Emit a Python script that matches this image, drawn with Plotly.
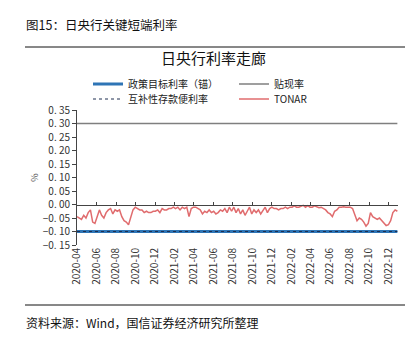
import pandas as pd
import plotly.graph_objects as go

# TONAR weekly readings (Wednesdays from 2020-04-01), %
tonar = [
    # 2020 Apr-Dec
    -0.045, -0.05, -0.055, -0.04, -0.05,
    -0.03, -0.02, -0.065, -0.07,
    -0.045, -0.02, -0.04, -0.05,
    -0.03, -0.02, -0.015, -0.035, -0.02,
    -0.025, -0.02, -0.045, -0.06,
    -0.065, -0.075, -0.05, -0.02, -0.01,
    -0.015, -0.02, -0.02, -0.03,
    -0.025, -0.03, -0.03, -0.025,
    -0.025, -0.02, -0.03, -0.015, -0.02,
    # 2021
    -0.02, -0.015, -0.015, -0.01,
    -0.015, -0.01, -0.02, -0.01,
    -0.015, -0.01, -0.045, -0.015, -0.01,
    -0.01, -0.015, -0.02, -0.035,
    -0.025, -0.03, -0.02, -0.03,
    -0.025, -0.035, -0.03, -0.02, -0.025,
    -0.015, -0.03, -0.01, -0.025,
    -0.01, -0.03, -0.015, -0.035,
    -0.02, -0.04, -0.025, -0.01, -0.035,
    -0.02, -0.03, -0.02, -0.035,
    -0.02, -0.01, -0.03, -0.015,
    -0.01, -0.015, -0.015, -0.02, -0.015,
    # 2022
    -0.015, -0.01, -0.015, -0.01,
    -0.01, -0.005, -0.01, -0.01,
    -0.005, -0.003, -0.01, -0.004, -0.01,
    -0.01, -0.005, -0.01, -0.012,
    -0.01, -0.015, -0.02, -0.03,
    -0.035, -0.045, -0.025, -0.02, -0.01,
    -0.01, -0.008, -0.01, -0.01,
    -0.01, -0.015, -0.04, -0.06, -0.05,
    -0.055, -0.065, -0.08, -0.07,
    -0.03, -0.045, -0.05, -0.055,
    -0.05, -0.06, -0.07, -0.078, -0.075,
    -0.06, -0.03, -0.02, -0.025,
]
dates = pd.date_range("2020-04-01", periods=len(tonar), freq="7D")
policy_rate = [-0.10] * len(tonar)
discount_rate = [0.30] * len(tonar)
deposit_rate = [-0.10] * len(tonar)

yticks = [0.35, 0.30, 0.25, 0.20, 0.15, 0.10, 0.05, 0.00, -0.05, -0.10, -0.15]
yticktext = [("−" if v < 0 else "") + "0. %02d" % round(abs(v) * 100) for v in yticks]

FONT = "Noto Sans CJK SC"
L, T, PW, PH = 77, 110, 321, 135


def px(xp):
    return (xp - L) / PW


def py(yp):
    return 1 - (yp - T) / PH


fig = go.Figure()
fig.add_trace(go.Scatter(x=dates, y=policy_rate, mode="lines", name="政策目标利率（锚）",
                         line=dict(color="#2E75B6", width=3), legend="legend"))
fig.add_trace(go.Scatter(x=dates, y=discount_rate, mode="lines", name="贴现率",
                         line=dict(color="#7F7F7F", width=1.5), legend="legend2"))
fig.add_trace(go.Scatter(x=dates, y=deposit_rate, mode="lines", name="互补性存款便利率",
                         line=dict(color="#1F2F50", width=1, dash="dot"), legend="legend3"))
fig.add_trace(go.Scatter(x=dates, y=tonar, mode="lines", name="TONAR",
                         line=dict(color="#E06C6E", width=1.5), legend="legend4"))


def leg(xp, yp):
    return dict(x=px(xp), xanchor="left", y=py(yp), yanchor="middle",
                font=dict(size=10, family=FONT, color="#222"), bgcolor="rgba(0,0,0,0)",
                itemwidth=30, borderwidth=0)


fig.update_layout(
    width=417, height=346,
    margin=dict(l=L, r=417 - L - PW, t=T, b=346 - T - PH),
    paper_bgcolor="white", plot_bgcolor="white",
    font=dict(family=FONT, size=10, color="#222"),
    showlegend=True,
    legend=leg(88, 84), legend2=leg(234, 84), legend3=leg(88, 99), legend4=leg(234, 99),
    xaxis=dict(range=["2020-04-01", "2022-12-30"], showline=False, showgrid=False, zeroline=False,
               ticks="", tickangle=-90, dtick="M2", tick0="2020-04-01", tickformat="%Y-%m",
               tickfont=dict(size=10, color="#333")),
    xaxis2=dict(matches="x", overlaying="x", anchor="free", position=0.3, side="bottom",
                showline=True, linecolor="#444", linewidth=1, ticks="inside", ticklen=3,
                tickcolor="#444", dtick="M2", tick0="2020-04-01", showticklabels=False,
                showgrid=False, zeroline=False),
    yaxis=dict(range=[-0.15, 0.35], tickvals=yticks, ticktext=yticktext, showgrid=False,
               zeroline=False, showline=True, linecolor="#444", linewidth=1, ticks="outside",
               ticklen=4, tickcolor="#444", tickfont=dict(size=10, color="#333"),
               title=dict(text="%", font=dict(size=9, color="#555"), standoff=2)),
)
# invisible trace so xaxis2 (zero line with ticks) is drawn
fig.add_trace(go.Scatter(x=[dates[0]], y=[0], xaxis="x2", mode="markers", marker=dict(opacity=0),
                         showlegend=False, hoverinfo="skip"))

fig.add_annotation(text="图15：日央行关键短端利率", xref="paper", yref="paper", x=px(24), y=py(25),
                   xanchor="left", yanchor="middle", showarrow=False, font=dict(size=12.5, color="#111", family=FONT))
fig.add_annotation(text="日央行利率走廊", xref="paper", yref="paper", x=px(213), y=py(57),
                   xanchor="center", yanchor="middle", showarrow=False, font=dict(size=15, color="#111", family=FONT))
fig.add_annotation(text="资料来源：Wind，国信证券经济研究所整理", xref="paper", yref="paper", x=px(24),
                   y=py(322), xanchor="left", yanchor="middle", showarrow=False,
                   font=dict(size=12, color="#111", family=FONT))
fig.add_shape(type="line", xref="paper", yref="paper", x0=px(25), x1=px(405),
              y0=py(47), y1=py(47), line=dict(color="#111", width=1))
fig.add_shape(type="line", xref="paper", yref="paper", x0=px(25), x1=px(405),
              y0=py(305), y1=py(305), line=dict(color="#111", width=1))

fig.write_html("out.html")
